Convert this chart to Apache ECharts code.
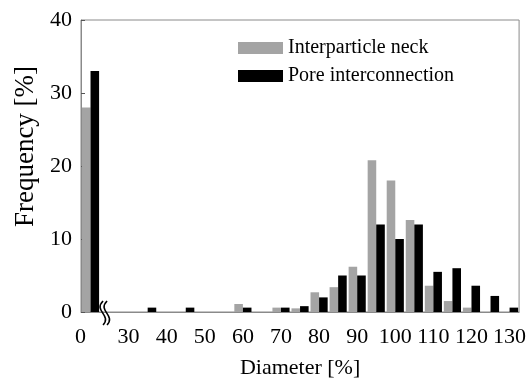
<!DOCTYPE html>
<html>
<head>
<meta charset="utf-8">
<script src="https://cdn.jsdelivr.net/npm/echarts@6/dist/echarts.min.js"></script>
<style>
html,body{margin:0;padding:0;background:#fff;}
#chart{width:529px;height:384px;}
</style>
</head>
<body>
<div id="chart"></div>
<script>
// Bins (5 % wide). Index 1 is the empty slot occupied by the axis break.
const categories = ['0', '', '30', '35', '40', '45', '50', '55', '60', '65', '70', '75', '80', '85', '90', '95', '100', '105', '110', '115', '120', '125', '130'];
const tickLabels = ['0', '30', '40', '50', '60', '70', '80', '90', '100', '110', '120', '130'];
const neckValues = [28, 0, 0, 0, 0, 0, 0, 0, 1.1, 0, 0.6, 0.5, 2.7, 3.4, 6.2, 20.8, 18.0, 12.6, 3.6, 1.5, 0.6, 0, 0];
const poreValues = [33, 0, 0, 0.6, 0, 0.6, 0, 0, 0.6, 0, 0.6, 0.8, 2.0, 5.0, 5.0, 12.0, 10.0, 12.0, 5.5, 6.0, 3.6, 2.2, 0.6];
const seriesNames = ['Interparticle neck', 'Pore interconnection'];
const yTicks = { min: 0, max: 40, interval: 10 };

const FONT = 'Liberation Serif';
const AXIS_COLOR = '#8a8a8a';

const chart = echarts.init(document.getElementById('chart'), null, { renderer: 'canvas' });

const option = {
  animation: false,
  backgroundColor: '#fff',
  grid: { left: 81, right: 7, top: 20, bottom: 63, show: true, borderColor: AXIS_COLOR, borderWidth: 1 },
  legend: {
    orient: 'vertical',
    left: 233, top: 33,
    itemWidth: 45, itemHeight: 12, itemGap: 8,
    icon: 'rect',
    data: seriesNames,
    textStyle: { fontFamily: FONT, fontSize: 20, color: '#000', padding: [0, 0, 0, 0] }
  },
  xAxis: {
    type: 'category',
    data: categories,
    name: 'Diameter [%]',
    nameLocation: 'middle',
    nameGap: 45,
    nameTextStyle: { fontFamily: FONT, fontSize: 22, color: '#000' },
    axisLine: { lineStyle: { color: AXIS_COLOR, width: 1 } },
    axisTick: {
      inside: true, length: 4,
      lineStyle: { color: '#555' },
      interval: function (index) { return index >= 2; }
    },
    axisLabel: {
      interval: 0,
      margin: 14,
      fontFamily: FONT, fontSize: 22, color: '#000',
      formatter: function (value, index) {
        if (index === 0) return '{z|' + value + '}';
        return tickLabels.indexOf(value) >= 0 ? value : '';
      },
      rich: { z: { fontFamily: FONT, fontSize: 22, color: '#000', padding: [0, 20, 0, 0] } }
    },
    splitLine: { show: false }
  },
  yAxis: {
    type: 'value',
    min: yTicks.min, max: yTicks.max, interval: yTicks.interval,
    name: 'Frequency [%]',
    nameLocation: 'middle',
    nameGap: 42,
    nameTextStyle: { fontFamily: FONT, fontSize: 27, color: '#000', padding: [0, 0, 0, 39] },
    axisLine: { show: true, lineStyle: { color: AXIS_COLOR, width: 1 } },
    axisTick: { show: true, inside: true, length: 4, lineStyle: { color: '#555' } },
    axisLabel: { margin: 9, fontFamily: FONT, fontSize: 22, color: '#000' },
    splitLine: { show: false }
  },
  series: [
    { name: seriesNames[0], type: 'bar', data: neckValues, barGap: '0%', barCategoryGap: '10%', itemStyle: { color: '#a4a4a4' } },
    { name: seriesNames[1], type: 'bar', data: poreValues, barGap: '0%', barCategoryGap: '10%', itemStyle: { color: '#000' } }
  ]
};
chart.setOption(option);

// Axis-break mark between the first bin and the 30 % bin, placed via the axis scale.
const c0 = chart.convertToPixel({ xAxisIndex: 0 }, categories[0]);
const c1 = chart.convertToPixel({ xAxisIndex: 0 }, categories[1]);
const yBase = chart.convertToPixel({ yAxisIndex: 0 }, 0);
const bx = (c0 + c1) / 2 + 2;
function wave(x) {
  return {
    type: 'bezierCurve',
    shape: { x1: x + 1, y1: yBase - 11, x2: x + 1, y2: yBase + 13, cpx1: x - 9, cpy1: yBase - 1, cpx2: x + 10, cpy2: yBase + 3 },
    style: { stroke: '#000', lineWidth: 1.6, fill: null },
    z: 10
  };
}
chart.setOption({ graphic: [wave(bx), wave(bx + 4)] });
</script>
</body>
</html>
